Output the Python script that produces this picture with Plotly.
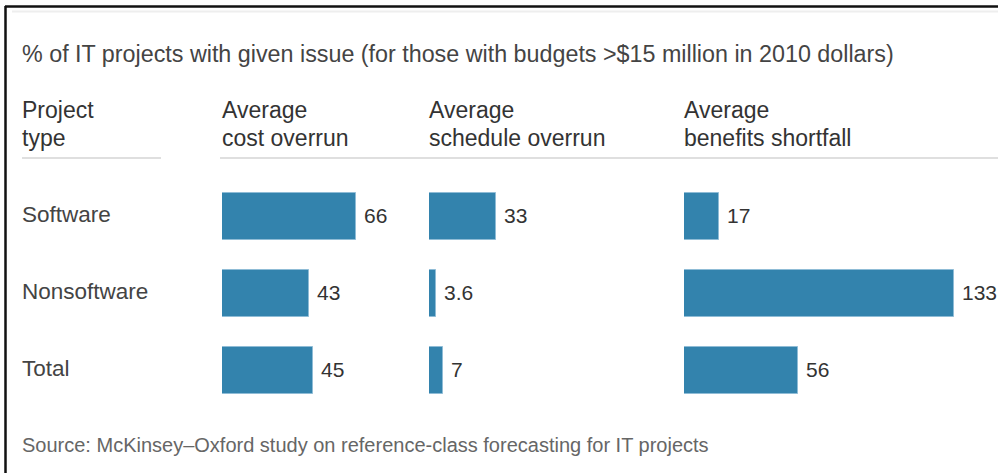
import plotly.graph_objects as go

# Data
project_types = ["Software", "Nonsoftware", "Total"]
cost_overrun = [66, 43, 45]
schedule_overrun = [33, 3.6, 7]
benefits_shortfall = [17, 133, 56]
value_labels = [["66", "43", "45"], ["33", "3.6", "7"], ["17", "133", "56"]]
column_headers = [("Average", "cost overrun"), ("Average", "schedule overrun"), ("Average", "benefits shortfall")]
row_header = ("Project", "type")
title_text = "% of IT projects with given issue (for those with budgets >$15 million in 2010 dollars)"
source_text = "Source: McKinsey\u2013Oxford study on reference-class forecasting for IT projects"

W, H = 998, 473
BAR = "#3383ad"
FONT = "Liberation Sans, Arial, Helvetica, sans-serif"

def px(x):
    return x / W

def py(y):
    return 1 - y / H

# panels share a common scale of ~2.03 px per unit
scale = 2.03
panels = [(222, 420), (429, 675), (684, 998)]
series = [cost_overrun, schedule_overrun, benefits_shortfall]


def header(x, lines):
    out = []
    for text, yc in zip(lines, [110.5, 137.5]):
        out.append(dict(
            x=px(x), y=py(yc), xref="paper", yref="paper", text=text,
            showarrow=False, xanchor="left", yanchor="middle", xshift=-2,
            font=dict(family=FONT, size=23, color="#333333"),
        ))
    return out


fig = go.Figure()
layout_axes = {}
annotations = []
for i, ((left, right), vals) in enumerate(zip(panels, series)):
    ax = "" if i == 0 else str(i + 1)
    fig.add_trace(go.Bar(
        x=vals, y=project_types, orientation="h",
        xaxis="x" + ax, yaxis="y",
        marker=dict(color=BAR, line=dict(color="#8fbcd6", width=1)),
        width=0.61, hoverinfo="skip", showlegend=False,
    ))
    layout_axes["xaxis" + ax] = dict(
        domain=[px(left), px(right)], range=[0, (right - left) / scale],
        visible=False, fixedrange=True, anchor="y",
    )
    for v, lab, cat in zip(vals, value_labels[i], project_types):
        annotations.append(dict(
            x=v, y=cat, xref="x" + ax, yref="y", text=lab, showarrow=False,
            xanchor="left", yanchor="middle", xshift=6, yshift=1,
            font=dict(family=FONT, size=21, color="#333333"),
        ))
    annotations += header(left, column_headers[i])

# row labels
for cat in project_types:
    annotations.append(dict(
        x=px(22), y=cat, xref="paper", yref="y", text=cat, showarrow=False,
        xanchor="left", yanchor="middle", xshift=-2, yshift=2,
        font=dict(family=FONT, size=22.5, color="#444444"),
    ))

annotations += header(22, row_header)
annotations.append(dict(
    x=px(22), y=py(54), xref="paper", yref="paper", text=title_text,
    showarrow=False, xanchor="left", yanchor="middle", xshift=-2,
    font=dict(family=FONT, size=23.3, color="#444444"),
))
annotations.append(dict(
    x=px(22), y=py(445), xref="paper", yref="paper", text=source_text,
    showarrow=False, xanchor="left", yanchor="middle", xshift=-2,
    font=dict(family=FONT, size=20, color="#666666"),
))

shapes = [
    # outer frame
    dict(type="line", xref="paper", yref="paper", x0=px(5), x1=px(1000), y0=py(6.5), y1=py(6.5),
         line=dict(color="#111111", width=2.5)),
    dict(type="line", xref="paper", yref="paper", x0=px(5.5), x1=px(5.5), y0=py(6), y1=py(480),
         line=dict(color="#111111", width=2.5)),
    # thin rule under the frame top
    dict(type="line", xref="paper", yref="paper", x0=px(12), x1=px(1000), y0=py(11.5), y1=py(11.5),
         line=dict(color="#eeeeee", width=2)),
    # header underlines
    dict(type="line", xref="paper", yref="paper", x0=px(22), x1=px(161), y0=py(158), y1=py(158),
         line=dict(color="#d4d4d4", width=1.5)),
    dict(type="line", xref="paper", yref="paper", x0=px(220), x1=px(1000), y0=py(158), y1=py(158),
         line=dict(color="#d4d4d4", width=1.5)),
]

fig.update_layout(
    width=W, height=H,
    margin=dict(l=0, r=0, t=0, b=0),
    paper_bgcolor="white", plot_bgcolor="rgba(0,0,0,0)",
    yaxis=dict(domain=[py(409), py(178)], range=[2.5, -0.5], type="category",
               categoryorder="array", categoryarray=project_types,
               visible=False, fixedrange=True),
    annotations=annotations, shapes=shapes,
    bargap=0,
    **layout_axes,
)

fig.write_html("out.html", config={"displayModeBar": False})
